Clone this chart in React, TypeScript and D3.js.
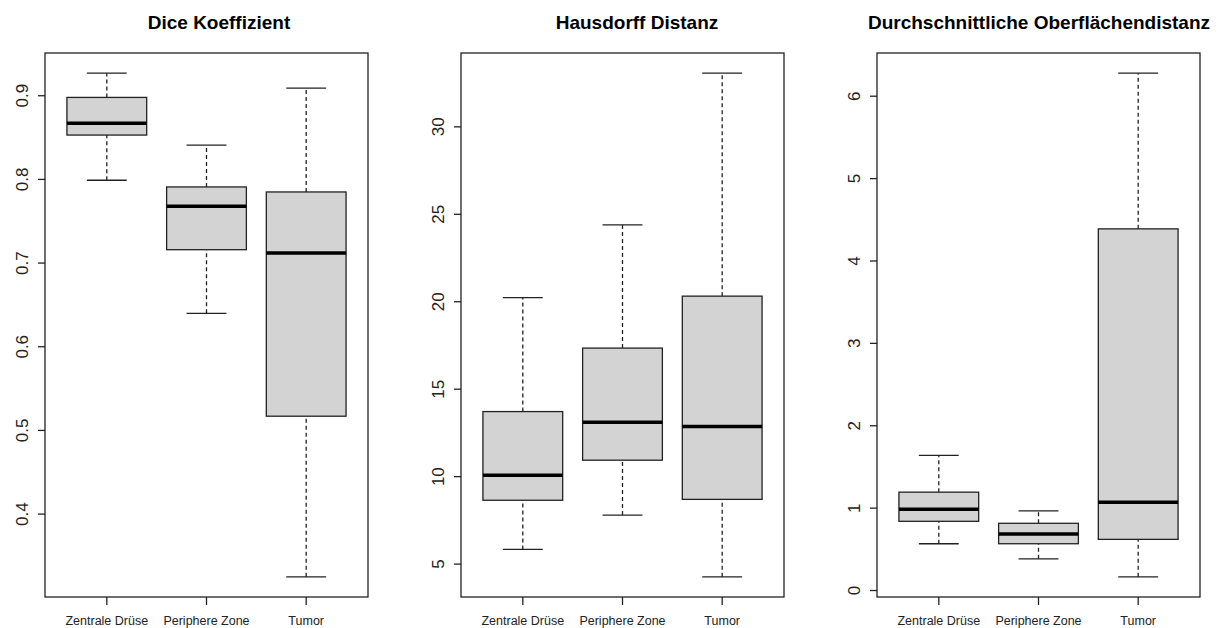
import * as React from "react";
import * as d3 from "d3";

// five-number summaries per category: [lower whisker, Q1, median, Q3, upper whisker]
const categories = ["Zentrale Drüse", "Periphere Zone", "Tumor"];

const diceStats = [
  [0.799, 0.853, 0.867, 0.898, 0.927],
  [0.640, 0.716, 0.768, 0.791, 0.841],
  [0.325, 0.517, 0.712, 0.785, 0.909],
];
const hausdorffStats = [
  [5.84, 8.65, 10.08, 13.72, 20.23],
  [7.80, 10.94, 13.11, 17.35, 24.39],
  [4.27, 8.70, 12.86, 20.32, 33.07],
];
const surfaceStats = [
  [0.568, 0.840, 0.987, 1.194, 1.64],
  [0.385, 0.568, 0.686, 0.816, 0.966],
  [0.166, 0.621, 1.072, 4.39, 6.28],
];

const diceTicks = [0.4, 0.5, 0.6, 0.7, 0.8, 0.9];
const hausdorffTicks = [5, 10, 15, 20, 25, 30];
const surfaceTicks = [0, 1, 2, 3, 4, 5, 6];

const panels = [
  {title: "Dice Koeffizient", stats: diceStats, ticks: diceTicks, left: 45, right: 368, titleX: 219},
  {title: "Hausdorff Distanz", stats: hausdorffStats, ticks: hausdorffTicks, left: 461, right: 784, titleX: 637},
  {title: "Durchschnittliche Oberflächendistanz", stats: surfaceStats, ticks: surfaceTicks, left: 877, right: 1200, titleX: 1039},
];

const top = 53;
const bottom = 597;
const font = "'Liberation Sans', Arial, sans-serif";

export default function App() {
  const ref = React.useRef<SVGSVGElement>(null);

  React.useEffect(() => {
    const svg = d3.select(ref.current);
    svg.selectAll("*").remove();

    panels.forEach(p => {
      const all = p.stats.flat();
      const lo = d3.min(all)!, hi = d3.max(all)!;
      const pad = (hi - lo) * 0.04;
      const y = d3.scaleLinear().domain([lo - pad, hi + pad]).range([bottom, top]);
      // R style: xlim = [0.5, 3.5] extended by 4%
      const x = d3.scaleLinear().domain([0.38, 3.62]).range([p.left, p.right]);
      const unit = x(1) - x(0);

      const g = svg.append("g");

      g.append("text")
        .attr("x", p.titleX)
        .attr("y", 29)
        .attr("text-anchor", "middle")
        .style("font-family", font)
        .style("font-weight", "bold")
        .style("font-size", "19px")
        .text(p.title);

      // boxes
      p.stats.forEach((s, i) => {
        const cx = x(i + 1);
        const [wLo, q1, med, q3, wHi] = s;
        const box = g.append("g");

        // whiskers
        [[wLo, q1], [q3, wHi]].forEach(([a, b]) => {
          box.append("line")
            .attr("x1", cx).attr("x2", cx)
            .attr("y1", y(a)).attr("y2", y(b))
            .attr("stroke", "#222")
            .attr("stroke-width", 1.3)
            .attr("stroke-dasharray", "4,3");
        });
        [wLo, wHi].forEach(v => {
          box.append("line")
            .attr("x1", cx - unit * 0.2).attr("x2", cx + unit * 0.2)
            .attr("y1", y(v)).attr("y2", y(v))
            .attr("stroke", "#222")
            .attr("stroke-width", 1.3);
        });

        box.append("rect")
          .attr("x", cx - unit * 0.4)
          .attr("width", unit * 0.8)
          .attr("y", y(q3))
          .attr("height", y(q1) - y(q3))
          .attr("fill", "#d3d3d3")
          .attr("stroke", "#222")
          .attr("stroke-width", 1.3);

        box.append("line")
          .attr("x1", cx - unit * 0.4).attr("x2", cx + unit * 0.4)
          .attr("y1", y(med)).attr("y2", y(med))
          .attr("stroke", "#000")
          .attr("stroke-width", 3.5);
      });

      // frame
      g.append("rect")
        .attr("x", p.left).attr("y", top)
        .attr("width", p.right - p.left).attr("height", bottom - top)
        .attr("fill", "none")
        .attr("stroke", "#222")
        .attr("stroke-width", 1.3);

      // y axis
      const yAxis = g.append("g");
      p.ticks.forEach(t => {
        yAxis.append("line")
          .attr("x1", p.left - 7).attr("x2", p.left)
          .attr("y1", y(t)).attr("y2", y(t))
          .attr("stroke", "#222")
          .attr("stroke-width", 1.3);
        yAxis.append("text")
          .attr("transform", `translate(${p.left - 17},${y(t)}) rotate(-90)`)
          .attr("text-anchor", "middle")
          .style("font-family", font)
          .style("font-size", "17px")
          .style("fill", "#222")
          .text(String(t));
      });

      // x axis
      categories.forEach((c, i) => {
        g.append("line")
          .attr("x1", x(i + 1)).attr("x2", x(i + 1))
          .attr("y1", bottom).attr("y2", bottom + 8)
          .attr("stroke", "#222")
          .attr("stroke-width", 1.3);
        g.append("text")
          .attr("x", x(i + 1))
          .attr("y", 625)
          .attr("text-anchor", "middle")
          .style("font-family", font)
          .style("font-size", "12.5px")
          .style("fill", "#222")
          .text(c);
      });
    });
  }, []);

  return <svg ref={ref} width={1218} height={628}
              style={{position: "absolute", left: 0, top: 0, background: "#fff"}}/>;
}
